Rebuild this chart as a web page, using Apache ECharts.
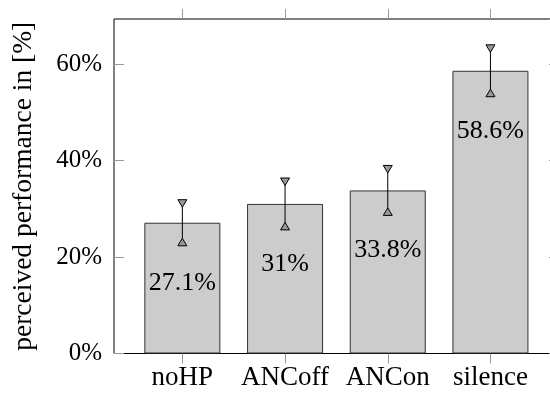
<!DOCTYPE html>
<html>
<head>
<meta charset="utf-8">
<style>
  html, body { margin: 0; padding: 0; background: #fff; }
  #chart { width: 550px; height: 395px; }
</style>
<script src="https://cdn.jsdelivr.net/npm/echarts@6/dist/echarts.min.js"></script>
</head>
<body>
<div id="chart"></div>
<script>
const categories = ['noHP', 'ANCoff', 'ANCon', 'silence'];
const values = [27.1, 31, 33.8, 58.6];
const errors = [4.0, 4.6, 4.4, 4.6];
const yMin = 0;
const yMax = 69.33;
const yStep = 20;

const FONT = '"Liberation Serif", "Times New Roman", serif';
const chart = echarts.init(document.getElementById('chart'), null, { renderer: 'canvas' });

const errData = categories.map((c, i) => [i, values[i] - errors[i], values[i] + errors[i]]);

const option = {
  animation: false,
  backgroundColor: '#fff',
  grid: [
    { left: 114, top: 19, width: 445, height: 334.5, outerBoundsMode: 'none', containLabel: false,
      show: true, borderColor: '#000', borderWidth: 1, backgroundColor: 'transparent' },
    { left: 131, top: 19, width: 410.8, height: 334.5, outerBoundsMode: 'none', containLabel: false }
  ],
  xAxis: [
    { gridIndex: 0, type: 'value', min: 0, max: 1, show: false },
    {
      gridIndex: 1, type: 'category', data: categories, position: 'bottom',
      axisLine: { show: false },
      axisTick: { show: true, alignWithLabel: true, inside: false, length: 10, lineStyle: { color: '#999' } },
      axisLabel: { interval: 0, fontFamily: FONT, fontSize: 27, color: '#000', margin: 11 }
    },
    {
      gridIndex: 1, type: 'category', data: categories, position: 'top',
      axisLine: { show: false },
      axisTick: { show: true, alignWithLabel: true, inside: false, length: 10, lineStyle: { color: '#999' } },
      axisLabel: { show: false }
    }
  ],
  yAxis: [
    {
      gridIndex: 0, type: 'value', min: yMin, max: yMax, interval: yStep, position: 'left',
      axisLine: { show: false },
      axisTick: { show: true, inside: true, length: 10, lineStyle: { color: '#999' } },
      splitLine: { show: false },
      axisLabel: { formatter: '{value}%', fontFamily: FONT, fontSize: 25, color: '#000', margin: 12, showMaxLabel: false },
      name: 'perceived performance in [%]', nameLocation: 'middle', nameGap: 76,
      nameTextStyle: { fontFamily: FONT, fontSize: 27.5, color: '#000' }
    },
    {
      gridIndex: 0, type: 'value', min: yMin, max: yMax, interval: yStep, position: 'right',
      axisLine: { show: false },
      axisTick: { show: true, inside: true, length: 10, lineStyle: { color: '#999' } },
      splitLine: { show: false },
      axisLabel: { show: false }
    },
    { gridIndex: 1, type: 'value', min: yMin, max: yMax, show: false }
  ],
  series: [
    {
      type: 'bar', xAxisIndex: 1, yAxisIndex: 2, data: values, barWidth: 76,
      itemStyle: { color: '#cccccc', borderColor: '#333', borderWidth: 1 },
      label: {
        show: true, position: ['50%', 60], align: 'center', verticalAlign: 'middle',
        formatter: p => p.value + '%', fontFamily: FONT, fontSize: 26, color: '#000'
      },
      z: 2
    },
    {
      type: 'custom', xAxisIndex: 1, yAxisIndex: 2, data: errData, z: 5,
      encode: { x: 0, y: [1, 2] },
      renderItem: function (params, api) {
        const hi = api.coord([api.value(0), api.value(2)]);
        const lo = api.coord([api.value(0), api.value(1)]);
        const hw = 4.5, hh = 3.75;
        const stroke = { stroke: '#000', lineWidth: 1 };
        return {
          type: 'group',
          children: [
            { type: 'line', shape: { x1: hi[0], y1: hi[1], x2: lo[0], y2: lo[1] }, style: stroke },
            { type: 'polygon', shape: { points: [[hi[0] - hw, hi[1] - hh], [hi[0] + hw, hi[1] - hh], [hi[0], hi[1] + hh]] },
              style: { fill: '#999', stroke: '#000', lineWidth: 1 } },
            { type: 'polygon', shape: { points: [[lo[0] - hw, lo[1] + hh], [lo[0] + hw, lo[1] + hh], [lo[0], lo[1] - hh]] },
              style: { fill: '#999', stroke: '#000', lineWidth: 1 } }
          ]
        };
      }
    }
  ]
};
chart.setOption(option);
</script>
</body>
</html>
